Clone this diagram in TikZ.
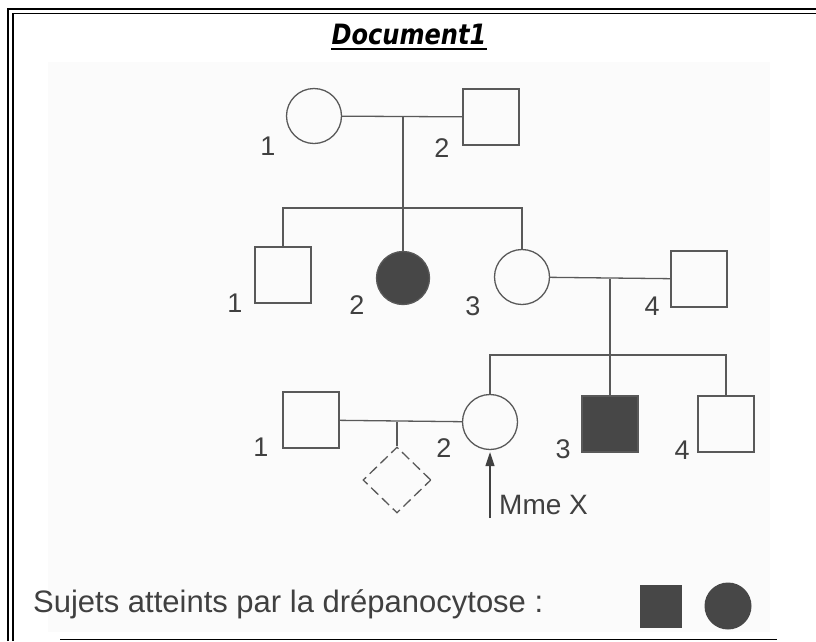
\documentclass[tikz,border=0pt]{standalone}
\usepackage{fontspec}
\setmainfont{Liberation Sans}
\newfontfamily\titlefont{DejaVu Sans}
\usetikzlibrary{shapes.geometric,arrows.meta}
\begin{document}
\begin{tikzpicture}[x=1pt,y=-1pt,
  ln/.style={draw=black!65,line width=1.3pt},
  fem/.style={circle,ln,minimum size=55pt,inner sep=0pt},
  masc/.style={rectangle,ln,minimum size=56pt,inner sep=0pt},
  aff/.style={fill=black!72},
  lbl/.style={font=\fontsize{27}{27}\selectfont,text=black!75,inner sep=0pt},
  conn/.style={ln}]
\useasboundingbox (0,0) rectangle (816,641);
\fill[white] (0,0) rectangle (816,641);
\fill[black!1.5] (48,62) rectangle (770,632);
% frame
\draw[line width=2.6pt] (8,641) -- (8,9) -- (816,9);
\draw[line width=1.2pt] (13,641) -- (13,13.5) -- (816,13.5);
\draw[line width=1.5pt] (60,639.5) -- (777,639.5);
% title
\node[font=\titlefont\fontsize{28}{28}\selectfont\bfseries\itshape,inner sep=0pt] (title) at (409,34) {\scalebox{0.86}[1]{Document1}};
\draw[line width=2.2pt] ([yshift=-4pt]title.south west) -- ([yshift=-4pt]title.south east);
% generation I
\node[fem] (I1) at (314,116) {};
\node[masc] (I2) at (491,117) {};
\node[lbl] (lI1) at (268,146) {1};
\node[lbl] (lI2) at (442,148) {2};
% generation II
\node[masc] (II1) at (283,275) {};
\node[fem,aff,minimum size=53pt] (II2) at (403,278) {};
\node[fem] (II3) at (522,277) {};
\node[masc] (II4) at (699,279) {};
\node[lbl] (lII1) at (235,303) {1};
\node[lbl] (lII2) at (357,305) {2};
\node[lbl] (lII3) at (473,306) {3};
\node[lbl] (lII4) at (652,306) {4};
% generation III
\node[masc] (III1) at (311,420) {};
\node[fem] (III2) at (490,422) {};
\node[masc,aff] (III3) at (610,424) {};
\node[masc] (III4) at (726,424) {};
\node[diamond,draw=black!65,line width=1.3pt,dash pattern=on 10pt off 5pt,minimum width=68pt,minimum height=66pt,inner sep=0pt] (D) at (397,480) {};
\node[lbl] (lIII1) at (261,447) {1};
\node[lbl] (lIII2) at (444,448) {2};
\node[lbl] (lIII3) at (563,449) {3};
\node[lbl] (lIII4) at (682,450) {4};
% couples and sibships
\coordinate (m1) at (403,117);
\coordinate (s1) at (403,208);
\draw[conn] (I1) -- (I2);
\draw[conn] (m1) -- (II2.north);
\draw[conn] (II1.north) |- (s1) -| (II3.north);
\coordinate (m2) at (610,279);
\coordinate (s2) at (610,355);
\draw[conn] (II3) -- (II4);
\draw[conn] (m2) -- (III3.north);
\draw[conn] (III2.north) |- (s2) -| (III4.north);
\coordinate (m3) at (397,422);
\draw[conn] (III1) -- (III2);
\draw[conn] (m3) -- (D.north);
% proband arrow
\coordinate (a0) at (490,518);
\draw[line width=1.3pt,black!75,-{Triangle[length=14pt,width=9pt]}] (a0) -- ([yshift=-2pt]III2.south);
\node[font=\fontsize{28}{28}\selectfont,text=black!75,anchor=west,inner sep=0pt] (mme) at (499,505) {Mme X};
% legend
\node[font=\fontsize{31}{31}\selectfont,text=black!75,anchor=west,inner sep=0pt] (leg) at (33,604) {Sujets atteints par la drépanocytose :};
\node[rectangle,fill=black!72,minimum width=42pt,minimum height=43pt,inner sep=0pt] (legsq) at (661,606) {};
\node[circle,fill=black!72,minimum size=47pt,inner sep=0pt] (legci) at (728,606) {};
\end{tikzpicture}
\end{document}
